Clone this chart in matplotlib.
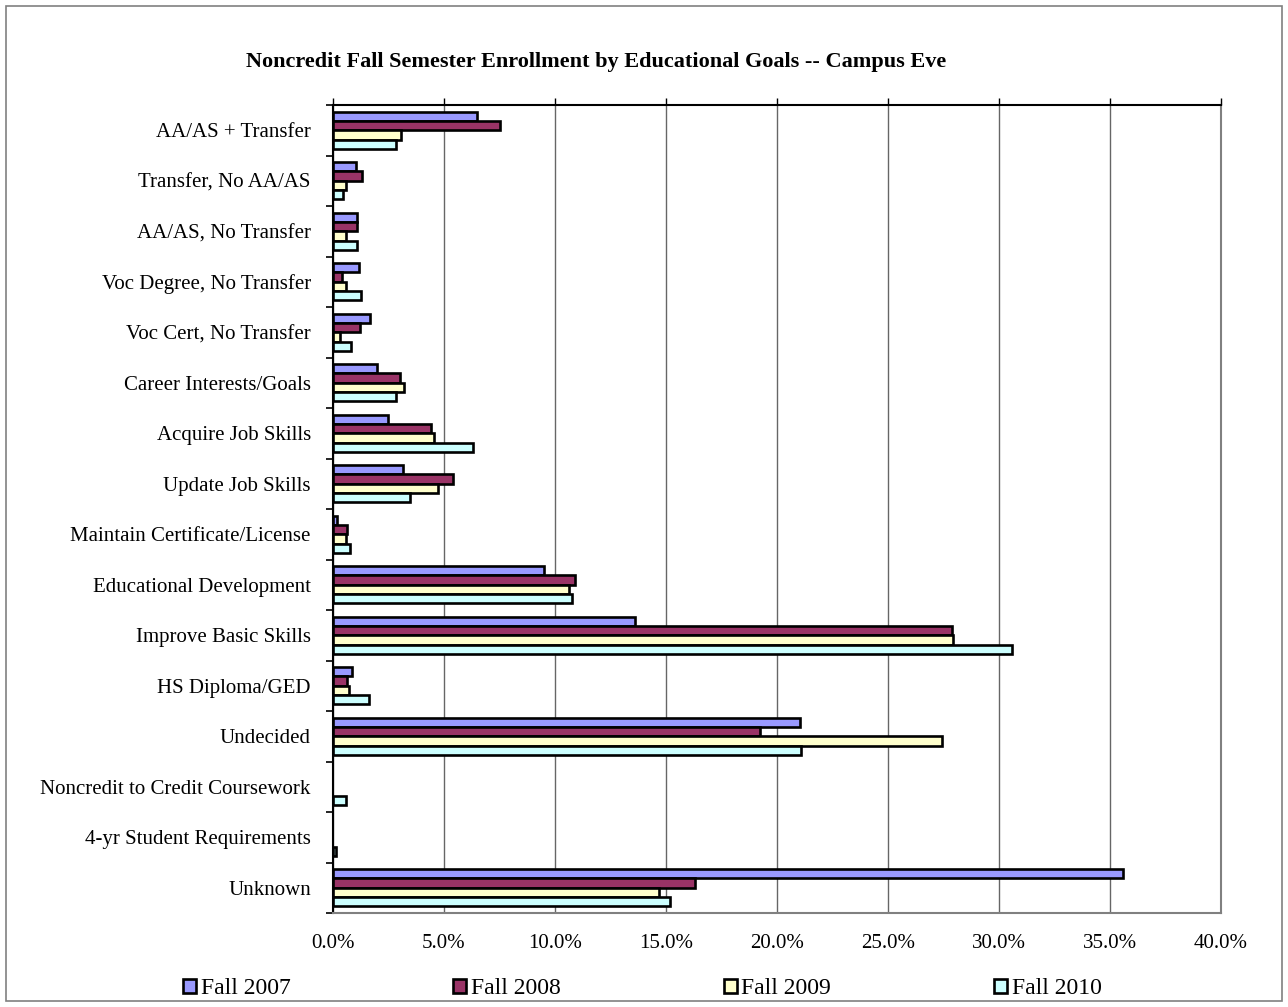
import matplotlib
matplotlib.use("Agg")
import matplotlib.pyplot as plt
import numpy as np
from matplotlib.patches import Rectangle
from matplotlib.ticker import FuncFormatter, MultipleLocator

categories = ["AA/AS + Transfer", "Transfer, No AA/AS", "AA/AS, No Transfer",
              "Voc Degree, No Transfer", "Voc Cert, No Transfer", "Career Interests/Goals",
              "Acquire Job Skills", "Update Job Skills", "Maintain Certificate/License",
              "Educational Development", "Improve Basic Skills", "HS Diploma/GED",
              "Undecided", "Noncredit to Credit Coursework", "4-yr Student Requirements",
              "Unknown"]
series_names = ["Fall 2007", "Fall 2008", "Fall 2009", "Fall 2010"]
fall_2007 = [6.5, 1.04, 1.07, 1.15, 1.65, 2.0, 2.5, 3.17, 0.17, 9.5, 13.6, 0.84, 21.05, 0.0, 0.0, 35.6]
fall_2008 = [7.5, 1.3, 1.08, 0.4, 1.2, 3.0, 4.4, 5.4, 0.63, 10.9, 27.9, 0.62, 19.25, 0.0, 0.0, 16.3]
fall_2009 = [3.05, 0.6, 0.6, 0.6, 0.3, 3.2, 4.55, 4.75, 0.59, 10.65, 27.95, 0.74, 27.45, 0.0, 0.0, 14.7]
fall_2010 = [2.85, 0.47, 1.1, 1.25, 0.8, 2.85, 6.3, 3.48, 0.78, 10.78, 30.6, 1.6, 21.08, 0.6, 0.12, 15.2]
colors = ["#9999FF", "#993366", "#FFFFCC", "#CCFFFF"]
values = [fall_2007, fall_2008, fall_2009, fall_2010]

plt.rcParams['font.family'] = ['Liberation Serif', 'DejaVu Serif']

fig = plt.figure(figsize=(12.88, 10.07), dpi=100)
fig.patches.append(Rectangle((6/1288, 6/1007), 1276/1288, 995/1007, transform=fig.transFigure,
                             fill=False, edgecolor="#808080", linewidth=1.2))
ax = fig.add_axes([333/1288, 94/1007, 888/1288, 808/1007])

n = len(categories)
y = np.arange(n)
bh = 0.185
for i, (vals, c, name) in enumerate(zip(values, colors, series_names)):
    offs = (i - 1.5) * bh
    lws = [1.9 if v > 0 else 0 for v in vals]
    ax.barh(y + offs, vals, height=bh, color=c, edgecolor="black", linewidth=lws, label=name, zorder=3)

ax.set_xlim(0, 40)
ax.set_ylim(n - 0.5, -0.5)
ax.xaxis.set_major_locator(MultipleLocator(5))
ax.xaxis.set_major_formatter(FuncFormatter(lambda v, p: f"{v:.1f}%"))
ax.grid(axis='x', color="#666666", linewidth=1.0, zorder=0)
ax.set_axisbelow(True)

ax.set_yticks(y)
ax.set_yticklabels(categories, fontsize=15)
ax.set_yticks(np.arange(n + 1) - 0.5, minor=True)
ax.tick_params(axis='y', which='major', length=0, pad=16)
ax.tick_params(axis='y', which='minor', length=5, width=1.2, color="black", direction='out')
ax.tick_params(axis='x', which='major', labelsize=15, top=True, bottom=False, length=5,
               width=1.0, direction='out', pad=10)

for s in ['top', 'left']:
    ax.spines[s].set_color('black')
    ax.spines[s].set_linewidth(1.5)
for s in ['bottom', 'right']:
    ax.spines[s].set_color('#808080')
    ax.spines[s].set_linewidth(1.5)

fig.text(596/1288, 945/1007, "Noncredit Fall Semester Enrollment by Educational Goals -- Campus Eve",
         ha='center', va='center', fontsize=16, fontweight='bold')

handles = [Rectangle((0, 0), 1, 1, facecolor=c, edgecolor="black", linewidth=1.9) for c in colors]
leg = fig.legend(handles, series_names, ncol=4, loc='center left',
                 bbox_to_anchor=(183/1288, 18/1007), frameon=False,
                 fontsize=17, handlelength=0.55, handleheight=0.55, handletextpad=0.2,
                 columnspacing=6.9, borderpad=0, borderaxespad=0)

fig.savefig("out.png", dpi=100)
